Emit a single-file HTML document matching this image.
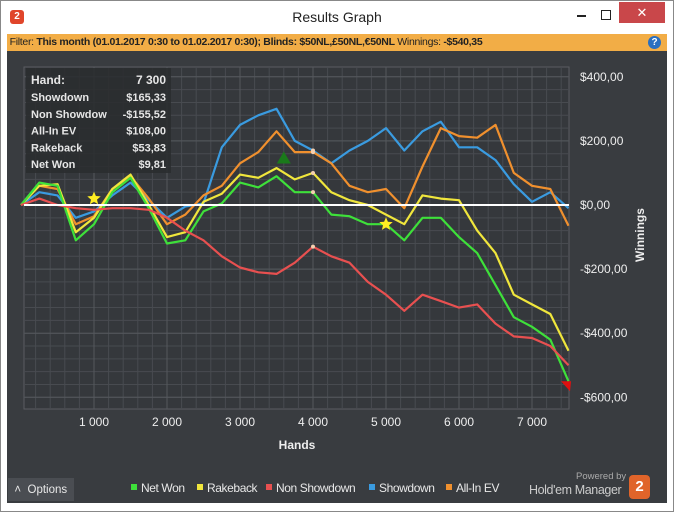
<!DOCTYPE html>
<html><head><meta charset="utf-8">
<style>
body{margin:0;width:674px;height:512px;overflow:hidden;background:#fff;font-family:"Liberation Sans",sans-serif;}
#win{position:absolute;left:0;top:0;width:672px;height:510px;border:1px solid #888;background:#fff;}
#title{position:absolute;left:0;top:0;width:672px;height:32px;text-align:center;line-height:32px;font-size:14px;color:#222;}
#filter{position:absolute;left:6px;top:33px;width:660px;height:17px;background:#f2ad46;font-size:10.5px;letter-spacing:-0.3px;line-height:17px;color:#222;}
#body{position:absolute;left:6px;top:50px;width:660px;height:452px;background:#393c40;}
</style></head><body>
<div id="win">
<div id="title">Results Graph</div>
<div style="position:absolute;left:9px;top:9px;width:14px;height:14px;background:#e0452a;border-radius:3px;color:#fff;font-size:10px;font-weight:bold;text-align:center;line-height:14px;">2</div>
<div style="position:absolute;left:576px;top:14px;width:9px;height:2px;background:#222;"></div>
<div style="position:absolute;left:600px;top:9px;width:8px;height:8px;border:1.5px solid #222;"></div>
<div style="position:absolute;left:618px;top:1px;width:46px;height:21px;background:#c9474a;color:#fff;text-align:center;line-height:21px;font-size:13px;">✕</div>
<div id="filter">&nbsp;Filter: <b>This month (01.01.2017 0:30 to 01.02.2017 0:30); Blinds: $50NL,£50NL,€50NL</b> Winnings: <b>-$540,35</b>
<span style="position:absolute;right:6px;top:2px;width:13px;height:13px;border-radius:50%;background:#2a6fc0;color:#fff;font-size:10px;font-weight:bold;text-align:center;line-height:13px;letter-spacing:0;">?</span></div>
<div id="body"></div>
<svg id="chart" width="674" height="512" style="position:absolute;left:-1px;top:-1px;"></svg>
<div style="position:absolute;left:7px;top:477px;width:66px;height:23px;background:#4a4d52;color:#e8e8e8;font-size:11.5px;line-height:25px;">&nbsp;&nbsp;˄&nbsp;&nbsp;Options</div>
<div style="position:absolute;left:575px;top:470px;color:#aaa;font-size:9.5px;">Powered by</div>
<div style="position:absolute;left:528px;top:482px;color:#ccc;font-size:12.5px;letter-spacing:-0.4px;">Hold'em Manager</div>
<div style="position:absolute;left:628px;top:474px;width:21px;height:24px;background:#e0642a;color:#fff;font-weight:bold;font-size:15px;text-align:center;line-height:24px;border-radius:4px;">2</div>
</div>
<script>
const hands=[0,250,500,750,1000,1250,1500,1750,2000,2250,2500,2750,3000,3250,3500,3750,4000,4250,4500,4750,5000,5250,5500,5750,6000,6250,6500,6750,7000,7250,7500];
const netWon=[0,70,60,-110,-60,40,85,-10,-120,-110,-20,5,70,55,90,40,40,-30,-35,-60,-60,-110,-40,-40,-100,-150,-250,-350,-380,-420,-550];
const rakeback=[0,60,65,-85,-40,50,95,0,-100,-85,10,35,95,85,115,80,100,40,15,0,-30,-60,30,20,15,-80,-150,-280,-310,-340,-455];
const nonShowdown=[0,20,0,-10,-15,-10,-10,-15,-40,-80,-110,-160,-195,-210,-215,-180,-130,-160,-180,-240,-280,-330,-280,-300,-320,-310,-370,-410,-415,-440,-500];
const showdown=[0,40,30,-40,-20,30,70,15,-40,-5,5,180,250,280,300,200,170,130,170,200,240,170,230,260,180,180,140,65,10,40,-10];
const allInEV=[0,60,50,-60,-35,50,90,20,-60,-30,30,60,130,165,230,165,165,130,60,40,50,-10,120,240,215,210,250,100,60,50,-65];
const xTicks=[1000,2000,3000,4000,5000,6000,7000];
const xTickLabels=["1 000","2 000","3 000","4 000","5 000","6 000","7 000"];
const yTicks=[400,200,0,-200,-400,-600];
const yTickLabels=["$400,00","$200,00","$0,00","-$200,00","-$400,00","-$600,00"];
const seriesNames=["Net Won","Rakeback","Non Showdown","Showdown","All-In EV"];
const seriesColors=["#3ee03a","#f0e63c","#e85050","#3a9be0","#f0902e"];

const X=h=>21+h*0.0730;
const Y=v=>205-v*0.3205;
const svg=document.getElementById('chart');
const NS='http://www.w3.org/2000/svg';
function mk(t,a,p){const e=document.createElementNS(NS,t);for(const k in a)e.setAttribute(k,a[k]);(p||svg).appendChild(e);return e;}

let e=mk('rect',{x:24,y:67,width:545,height:342,fill:'#35383c',stroke:'#5a5d62'});

const grid=mk('g',{stroke:'#484b50','stroke-width':1});

for(let h=200;h<7500;h+=200){mk('line',{x1:X(h),x2:X(h),y1:67,y2:409},grid);}
for(let v=-640;v<=480;v+=40){const y=Y(v);if(y>67&&y<409)mk('line',{x1:24,x2:569,y1:y,y2:y},grid);}
xTicks.forEach((t,i)=>{mk('line',{x1:X(t),x2:X(t),y1:67,y2:409,stroke:'#55585d'});
 const tx=mk('text',{x:X(t),y:426,fill:'#eee','font-size':12,'text-anchor':'middle'});tx.textContent=xTickLabels[i];
 });
yTicks.forEach((t,i)=>{mk('line',{x1:24,x2:569,y1:Y(t),y2:Y(t),stroke:'#55585d'});
 const tx=mk('text',{x:580,y:Y(t)+4,fill:'#eee','font-size':12});tx.textContent=yTickLabels[i];
 });
e=mk('text',{x:297,y:449,fill:'#eee','font-size':12,'font-weight':'bold','text-anchor':'middle'});e.textContent='Hands';

e=mk('text',{x:644,y:235,fill:'#eee','font-size':12,'font-weight':'bold','text-anchor':'middle',transform:'rotate(-90 644 235)'});e.textContent='Winnings';


const data=[netWon,rakeback,nonShowdown,showdown,allInEV];
const order=[3,4,1,0,2];
order.forEach(i=>{const pts=hands.map((h,j)=>X(h).toFixed(1)+','+Y(data[i][j]).toFixed(1)).join(' ');
 const l=mk('polyline',{points:pts,fill:'none',stroke:seriesColors[i],'stroke-width':2.2,'stroke-linejoin':'round'});
 
 });
e=mk('line',{x1:24,x2:569,y1:Y(0),y2:Y(0),stroke:'#fff','stroke-width':2});

const hi=hands.indexOf(4000);
data.forEach((s,i)=>{const d=mk('circle',{cx:X(4000),cy:Y(s[hi]),r:2,fill:'#f5d0b0'});
 });
function star(cx,cy,r,name){const p=[];for(let k=0;k<10;k++){const a=-Math.PI/2+k*Math.PI/5,rr=k%2?r*0.45:r;p.push((cx+rr*Math.cos(a)).toFixed(1)+','+(cy+rr*Math.sin(a)).toFixed(1));}
 const s=mk('polygon',{points:p.join(' '),fill:'#ffee22'});}
star(X(1000),Y(20),7,'marker-star-1');
star(X(5000),Y(-60),7,'marker-star-2');
e=mk('polygon',{points:`${X(3600)-7},${Y(145)+5} ${X(3600)+7},${Y(145)+5} ${X(3600)},${Y(145)-7}`,fill:'#1a7a1a'});

e=mk('polygon',{points:`${X(7480)-6},${Y(-550)} ${X(7480)+4},${Y(-550)} ${X(7480)+3},${Y(-550)+10}`,fill:'#e01010'});


const tip=mk('g',{});
mk('rect',{x:26,y:68,width:145,height:105,fill:'#2a2c2f','fill-opacity':0.88},tip);
const tl=["Hand:","Showdown","Non Showdow","All-In EV","Rakeback","Net Won"];
const tv=["7 300","$165,33","-$155,52","$108,00","$53,83","$9,81"];
tl.forEach((t,i)=>{const y=i==0?84:101+(i-1)*16.8;
 const a=mk('text',{x:31,y:y,fill:'#e6e6e6','font-size':i==0?12:11,'font-weight':'bold'},tip);a.textContent=t;
 const b=mk('text',{x:166,y:y,fill:'#e6e6e6','font-size':i==0?12:11,'font-weight':'bold','text-anchor':'end'},tip);b.textContent=tv[i];});

let lx=[131,197,266,369,446];
seriesNames.forEach((n,i)=>{const g=mk('g',{});
 mk('rect',{x:lx[i],y:484,width:6,height:6,fill:seriesColors[i]},g);
 const t=mk('text',{x:lx[i]+10,y:492,fill:'#e8e8e8','font-size':12,'letter-spacing':'-0.4'},g);t.textContent=n;});
</script>
</body></html>
